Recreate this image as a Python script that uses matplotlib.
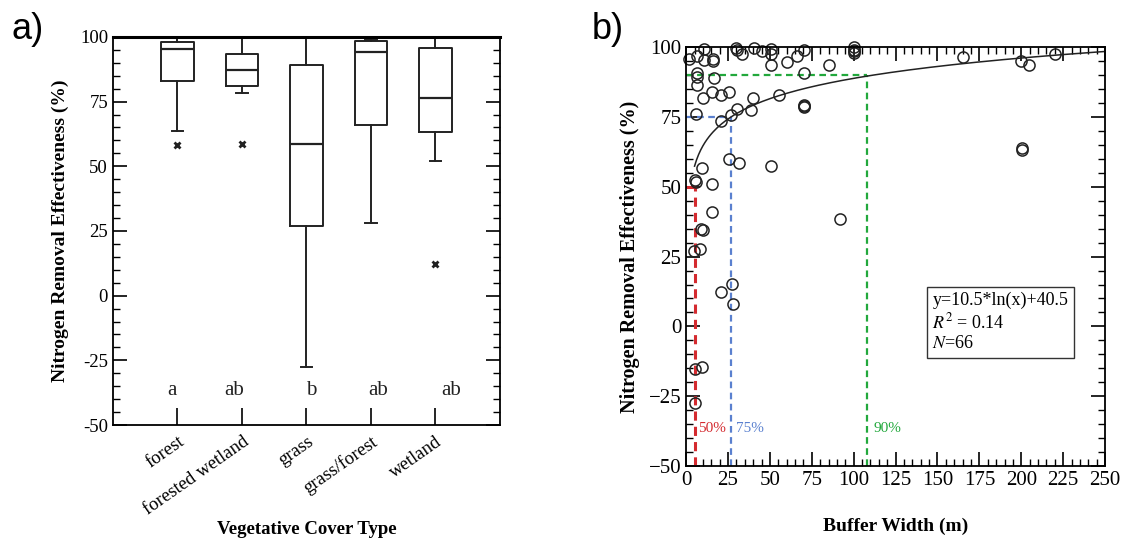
import numpy as np
import matplotlib
matplotlib.use("Agg")
import matplotlib.pyplot as plt
from matplotlib.ticker import MultipleLocator, FuncFormatter

plt.rcParams['font.family'] = ['Liberation Serif', 'DejaVu Serif']
plt.rcParams['mathtext.fontset'] = 'stix'
plt.rcParams['axes.unicode_minus'] = True

# ---- panel a: box plot summaries ----
cover_types = ['forest', 'forested wetland', 'grass', 'grass/forest', 'wetland']
q3 = [98.0, 93.4, 89.2, 98.3, 95.9]
med = [95.4, 87.1, 58.6, 94.0, 76.4]
q1 = [83.0, 81.1, 27.0, 66.0, 63.1]
whislo = [63.5, 78.2, -27.4, 28.1, 51.9]
whishi = [100.0, 100.0, 100.0, 99.0, 100.0]
outliers = [[58.1], [58.8], [], [], [12.4]]
letters = ['a', 'ab', 'b', 'ab', 'ab']
letter_x = [0.92, 1.88, 3.07, 4.11, 5.24]
letter_y = -36.6

# ---- panel b: scatter of buffer width vs removal ----
width_m = [1.5, 6.6, 10.6, 10.6, 16.3, 6.3, 6.3, 16.5, 10.1, 15.2,
           20.5, 25.6, 5.7, 20.5, 26.8, 30.4, 38.9, 39.7, 55.4, 70.6,
           70.6, 70.6, 70.6, 66.4, 60.4, 50.7, 50.7, 50.7, 45.4, 40.6,
           33.6, 30.0, 30.4, 85.4, 100.2, 100.2, 100.2, 165.3, 199.9, 204.6,
           220.4, 200.3, 200.3, 91.7, 50.7, 31.7, 25.4, 9.7, 5.7, 15.4,
           15.4, 9.1, 9.9, 8.5, 4.9, 20.5, 27.1, 27.7, 9.5, 5.1,
           5.5, 6.3, 5.0, 16.3, 100.2, 70.6]
removal = [95.8, 96.9, 99.4, 95.5, 95.2, 90.6, 86.6, 88.8, 81.7, 83.9,
           82.9, 83.9, 76.2, 73.5, 75.9, 77.9, 77.6, 81.8, 83.0, 79.3,
           78.6, 90.8, 99.1, 96.7, 94.6, 93.6, 99.4, 97.7, 98.8, 99.8,
           97.7, 99.6, 98.9, 93.6, 100.0, 99.1, 97.9, 96.5, 94.9, 93.6,
           97.7, 63.9, 63.1, 38.3, 57.3, 58.6, 59.8, 56.7, 51.7, 51.1,
           41.1, 35.0, 34.6, 27.9, 27.0, 12.2, 15.3, 7.9, -14.5, -15.2,
           -27.5, 89.5, 52.5, 95.8, 98.5, 79.0]

# fitted model y = a*ln(x) + b (from the figure annotation)
fit_a, fit_b = 10.5, 40.5
fit_x = np.linspace(5.0, 250.0, 200)

# threshold widths for 50 / 75 / 90 % removal
thr_pct = [50, 75, 90]
thr_width = [5.3, 26.7, 107.8]
thr_color = ['#d42a2f', '#5a80cf', '#22a83c']
thr_lw = [2.2, 1.6, 1.6]
thr_label_x = [7.0, 30.0, 112.0]

fig = plt.figure(figsize=(11.23, 5.39), dpi=100)

# ================= panel a =================
ax1 = fig.add_axes([0.1006, 0.2115, 0.3446, 0.72])
stats = []
for i, name in enumerate(cover_types):
    stats.append(dict(label=name, med=med[i], q1=q1[i], q3=q3[i],
                      whislo=whislo[i], whishi=whishi[i], fliers=outliers[i]))
line_kw = dict(color='#222222', linewidth=1.4)
ax1.bxp(stats, positions=range(1, 6), widths=0.5, capwidths=0.18,
        boxprops=line_kw, whiskerprops=line_kw, capprops=line_kw,
        medianprops=dict(color='#222222', linewidth=1.6),
        flierprops=dict(marker='x', markersize=5, markeredgewidth=2,
                        markeredgecolor='#222222'))
for lx, lt in zip(letter_x, letters):
    ax1.text(lx, letter_y, lt, ha='center', va='center', fontsize=15, color='#222222')

ax1.set_xlim(0, 6)
ax1.set_ylim(-50, 100)
ax1.yaxis.set_major_locator(MultipleLocator(25))
ax1.yaxis.set_minor_locator(MultipleLocator(5))
# plain hyphen minus on this panel, as in the original
ax1.yaxis.set_major_formatter(FuncFormatter(lambda v, pos: f'{v:g}'))
ax1.set_xticks(range(1, 6))
ax1.set_xticklabels(cover_types, rotation=35, ha='right', rotation_mode='anchor')
ax1.tick_params(axis='y', which='both', direction='in', left=True, right=True, labelsize=13.5)
ax1.tick_params(axis='y', which='major', length=10, width=1.2)
ax1.tick_params(axis='y', which='minor', length=5, width=1.0)
ax1.tick_params(axis='x', direction='in', length=12, width=1.2, labelsize=13.5, pad=6)
for sp in ax1.spines.values():
    sp.set_linewidth(1.3)
ax1.spines['top'].set_linewidth(2.2)
ax1.set_ylabel('Nitrogen Removal Effectiveness (%)', fontsize=14, fontweight='bold', labelpad=8)
ax1.set_xlabel('Vegetative Cover Type', fontsize=13.5, fontweight='bold', labelpad=2)

# ================= panel b =================
ax2 = fig.add_axes([0.611, 0.1354, 0.373, 0.777])
for w, p, c, lw in zip(thr_width, thr_pct, thr_color, thr_lw):
    ax2.plot([0, w], [p, p], linestyle='--', color=c, linewidth=lw, dashes=(3, 2))
    ax2.plot([w, w], [-50, p], linestyle='--', color=c, linewidth=lw, dashes=(3, 2))
for lx, p, c in zip(thr_label_x, thr_pct, thr_color):
    ax2.text(lx, -36.5, f'{p}%', color=c, fontsize=11, ha='left', va='center')

ax2.plot(fit_x, fit_a * np.log(fit_x) + fit_b, color='#222222', linewidth=1.1)
ax2.plot(width_m, removal, linestyle='none', marker='o', markersize=8,
         markerfacecolor='none', markeredgecolor='#222222', markeredgewidth=1.1,
         clip_on=False)

ax2.text(147, 1.5, 'y=10.5*ln(x)+40.5\n$R^2$ = 0.14\n$N$=66',
         fontsize=13, ha='left', va='center', linespacing=1.2,
         bbox=dict(boxstyle='square,pad=0.3', facecolor='white',
                   edgecolor='#333333', linewidth=1.0))

ax2.set_xlim(0, 250)
ax2.set_ylim(-50, 100)
ax2.xaxis.set_major_locator(MultipleLocator(25))
ax2.xaxis.set_minor_locator(MultipleLocator(5))
ax2.yaxis.set_major_locator(MultipleLocator(25))
ax2.yaxis.set_minor_locator(MultipleLocator(5))
ax2.tick_params(which='both', direction='in', top=True, right=True, labelsize=15)
ax2.tick_params(which='major', length=10, width=1.2)
ax2.tick_params(which='minor', length=5, width=1.0)
for sp in ax2.spines.values():
    sp.set_linewidth(1.3)
ax2.set_ylabel('Nitrogen Removal Effectiveness (%)', fontsize=14.5, fontweight='bold', labelpad=6)
ax2.set_xlabel('Buffer Width (m)', fontsize=14, fontweight='bold', labelpad=20)

# panel letters
fig.text(0.010, 0.978, 'a)', fontsize=26, family='Liberation Sans', va='top')
fig.text(0.527, 0.978, 'b)', fontsize=26, family='Liberation Sans', va='top')

fig.savefig('out.png', dpi=100)
